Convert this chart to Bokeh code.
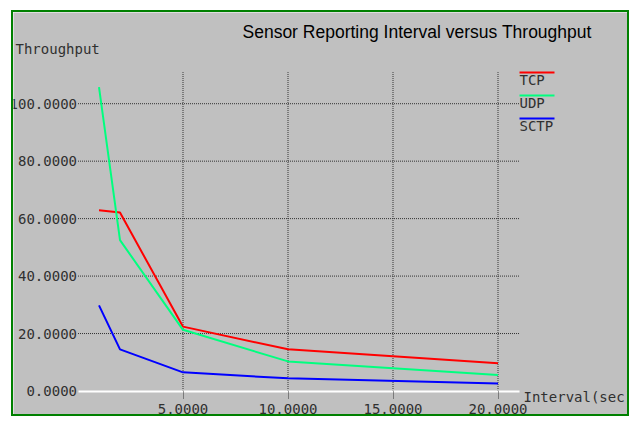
from bokeh.plotting import figure
from bokeh.models import Label, BoxAnnotation, FixedTicker, Range1d, PrintfTickFormatter
from bokeh.embed import file_html
from bokeh.resources import INLINE

# ---- data ----
interval = [1, 2, 5, 10, 20]
tcp = [62.9, 62.1, 22.4, 14.5, 9.7]
udp = [105.8, 52.5, 21.3, 10.3, 5.6]
sctp = [29.8, 14.5, 6.5, 4.4, 2.6]
series_names = ["TCP", "UDP", "SCTP"]
series_colors = ["#ff0000", "#00ff7f", "#0000ff"]
x_ticks = [5, 10, 15, 20]
y_ticks = [0, 20, 40, 60, 80, 100]
x_span = (0, 21)      # extent of the x axis line / horizontal grid lines
y_span = (0, 111)     # extent of the vertical grid lines
title_text = "Sensor Reporting Interval versus Throughput"
y_title = "Throughput"
x_title = "Interval(sec)"

# ---- layout (pixels) ----
W, H = 618, 406            # drawing area inside the green border
X0_PX, Y0_PX = 64.5, 27.5  # where data (0, 0) sits: from left, from bottom
PX_X, PX_Y = 21.0, 2.873   # pixels per data unit

GREY = "#c0c0c0"
MONO = "DejaVu Sans Mono"
TXT = "#303030"
GRID = "#333333"

p = figure(
    width=W, height=H,
    x_range=Range1d(-X0_PX / PX_X, (W - X0_PX) / PX_X),
    y_range=Range1d(-Y0_PX / PX_Y, (H - Y0_PX) / PX_Y),
    output_backend="svg", toolbar_location=None,
    min_border=0, min_border_left=0, min_border_right=0,
    min_border_top=0, min_border_bottom=0,
    background_fill_color=GREY, border_fill_color=GREY,
    outline_line_color=None,
    styles={"border": "2px solid #008000", "margin-left": "11px", "margin-top": "10px"},
)
p.xgrid.visible = False
p.ygrid.visible = False

# dotted grid, bounded like the reference
n_x, n_y = len(x_ticks), len(y_ticks) - 1
p.segment(x0=x_ticks, y0=[y_span[0]] * n_x, x1=x_ticks, y1=[y_span[1]] * n_x,
          line_color=GRID, line_width=1, line_dash="1 1")
p.segment(x0=[x_span[0]] * n_y, y0=y_ticks[1:], x1=[x_span[1]] * n_y, y1=y_ticks[1:],
          line_color=GRID, line_width=1, line_dash="1 1")

for ys, c in zip([tcp, udp, sctp], series_colors):
    p.line(interval, ys, line_color=c, line_width=2)

# axes pinned at data zero so they take no panel space
p.xaxis.fixed_location = 0
p.yaxis.fixed_location = 0
p.xaxis.ticker = FixedTicker(ticks=x_ticks)
p.yaxis.ticker = FixedTicker(ticks=y_ticks)
p.xaxis.formatter = PrintfTickFormatter(format="%.4f")
p.yaxis.formatter = PrintfTickFormatter(format="%.4f")
for ax in (p.xaxis, p.yaxis):
    ax.major_label_text_font = MONO
    ax.major_label_text_font_size = "14px"
    ax.major_label_text_color = TXT
    ax.minor_tick_line_color = None
    ax.major_tick_in = 0
p.xaxis.bounds = x_span
p.xaxis.axis_line_color = "white"
p.xaxis.axis_line_width = 2
p.xaxis.major_tick_out = 7
p.xaxis.major_tick_line_color = GRID
p.xaxis.major_tick_line_dash = "1 1"
p.xaxis.major_label_standoff = 6
p.yaxis.axis_line_color = None
p.yaxis.major_tick_line_color = None
p.yaxis.major_tick_out = 0
p.yaxis.major_label_standoff = 1

# texts (screen units from the drawing area's bottom-left corner)
def scr_label(x, y, text, font, size, color):
    p.add_layout(Label(x=x, y=y, x_units="screen", y_units="screen", text=text,
                       text_font=font, text_font_size=size, text_color=color,
                       text_baseline="alphabetic"))

scr_label(229, 387, title_text, "Liberation Sans", "17.5px", "black")
scr_label(2, 370, y_title, MONO, "14px", TXT)
scr_label(510, 22, x_title, MONO, "14px", TXT)

# legend: coloured bar above each name
LEG_X, LEG_W = 506, 35
LEG_LINE_TOP, LEG_STEP = 347, 23
for i, (name, c) in enumerate(zip(series_names, series_colors)):
    top = LEG_LINE_TOP - i * LEG_STEP
    p.add_layout(BoxAnnotation(left=LEG_X, right=LEG_X + LEG_W, top=top, bottom=top - 2,
                               left_units="screen", right_units="screen",
                               top_units="screen", bottom_units="screen",
                               fill_color=c, fill_alpha=1, line_color=None))
    scr_label(LEG_X, top - 8, name, MONO, "14px", TXT)

open("out.html", "w").write(file_html(p, INLINE))
